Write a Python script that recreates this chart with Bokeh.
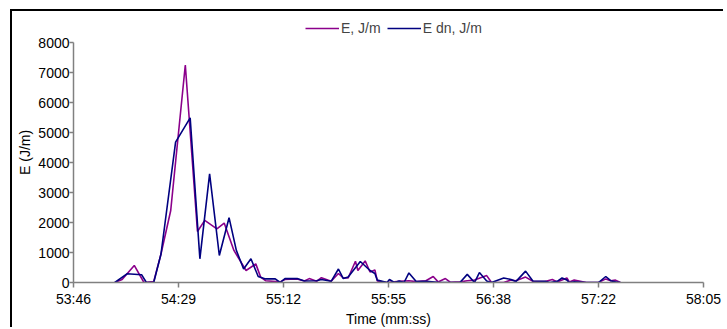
from bokeh.plotting import figure
from bokeh.models import Legend, LegendItem, FixedTicker, ColumnDataSource
from bokeh.embed import file_html
from bokeh.resources import INLINE

# ---- data (time as mm:ss, energy in J/m) ----
e_time = ["54:03", "54:06", "54:11", "54:15", "54:19", "54:22", "54:26", "54:32",
          "54:37", "54:40", "54:45", "54:48", "54:52", "54:57", "55:01", "55:03",
          "55:05", "55:11", "55:13", "55:18", "55:21", "55:23", "55:26", "55:28",
          "55:32", "55:35", "55:37", "55:39", "55:42", "55:43", "55:46", "55:48",
          "55:50", "55:51", "55:55", "56:00", "56:04", "56:07", "56:11", "56:14",
          "56:16", "56:19", "56:21", "56:25", "56:28", "56:31", "56:36", "56:38",
          "56:43", "56:46", "56:48", "56:52", "56:55", "57:00", "57:03", "57:05",
          "57:09", "57:10", "57:12", "57:17", "57:22", "57:25", "57:27", "57:29",
          "57:31"]
e_vals = [0, 100, 570, 0, 30, 950, 2400, 7250,
          1700, 2070, 1790, 1980, 1070, 400, 620, 180,
          60, 20, 100, 120, 50, 130, 40, 160,
          40, 300, 150, 150, 710, 400, 720, 350,
          420, 50, 0, 40, 60, 30, 60, 200,
          20, 130, 10, 20, 60, 80, 230, 0,
          0, 80, 60, 180, 40, 30, 100, 20,
          150, 20, 80, 0, 0, 120, 60, 80,
          0]

edn_time = ["54:03", "54:08", "54:14", "54:16", "54:19", "54:22", "54:28", "54:34",
            "54:38", "54:42", "54:46", "54:50", "54:53", "54:56", "54:59", "55:02",
            "55:05", "55:09", "55:11", "55:13", "55:18", "55:21", "55:26", "55:28",
            "55:32", "55:35", "55:37", "55:39", "55:44", "55:48", "55:50", "55:51",
            "55:55", "55:56", "55:58", "56:00", "56:02", "56:04", "56:07", "56:11",
            "56:16", "56:21", "56:25", "56:28", "56:31", "56:33", "56:36", "56:38",
            "56:43", "56:46", "56:48", "56:52", "56:55", "57:00", "57:02", "57:05",
            "57:07", "57:09", "57:10", "57:12", "57:17", "57:22", "57:25", "57:27",
            "57:29", "57:31"]
edn_vals = [0, 290, 260, 0, 0, 950, 4680, 5490,
            790, 3620, 900, 2160, 1070, 450, 790, 200,
            120, 120, 0, 130, 130, 50, 60, 100,
            40, 450, 130, 180, 700, 400, 300, 80,
            0, 100, 0, 50, 0, 320, 30, 40,
            10, 0, 0, 270, 0, 330, 50, 0,
            150, 100, 30, 380, 50, 40, 0, 40,
            150, 80, 0, 20, 0, 0, 200, 60,
            20, 0]

x_tick_labels = ["53:46", "54:29", "55:12", "55:55", "56:38", "57:22", "58:05"]
y_ticks = [0, 1000, 2000, 3000, 4000, 5000, 6000, 7000, 8000]


def to_sec(s):
    m, ss = s.split(":")
    return int(m) * 60 + int(ss)


x_start = to_sec(x_tick_labels[0])
x_step = 43.2  # Excel time-axis major unit (0.0005 day)
x_ticks = [x_start + i * x_step for i in range(len(x_tick_labels))]

FONT = "Liberation Sans"

# frame spans 264 px; the value axis 0..8000 occupies its lower 240 px
y_top = y_ticks[-1] * 264 / 240

p = figure(width=713, height=318, output_backend="svg", toolbar_location=None,
           x_range=(x_ticks[0], x_ticks[-1]), y_range=(0, y_top),
           min_border_left=61, min_border_right=22, min_border_top=7,
           min_border_bottom=47)
# chart-area border: only its left and top edges fall inside the window
p.styles = {"border-left": "2px solid #000000", "border-top": "2px solid #000000",
            "margin-left": "10px", "margin-top": "9px"}
p.background_fill_color = "white"
p.border_fill_color = "white"
p.outline_line_color = None
p.grid.visible = False

src_e = ColumnDataSource(dict(t=[to_sec(s) for s in e_time], v=e_vals))
src_d = ColumnDataSource(dict(t=[to_sec(s) for s in edn_time], v=edn_vals))
r1 = p.line("t", "v", source=src_e, line_color="#8B008B", line_width=1.6)
r2 = p.line("t", "v", source=src_d, line_color="#000080", line_width=1.6)

# axes
xa = p.xaxis[0]
xa.ticker = FixedTicker(ticks=x_ticks)
xa.major_label_overrides = {t: lab for t, lab in zip(x_ticks, x_tick_labels)}
xa.axis_label = "Time (mm:ss)"
ya = p.yaxis[0]
ya.ticker = FixedTicker(ticks=y_ticks)
ya.bounds = (y_ticks[0], y_ticks[-1])
ya.axis_label = "E  (J/m)"
for ax in (xa, ya):
    ax.axis_line_color = "#808080"
    ax.axis_line_width = 1.5
    ax.major_tick_line_color = "#808080"
    ax.major_tick_line_width = 1.5
    ax.major_tick_in = 0
    ax.major_tick_out = 5
    ax.minor_tick_line_color = None
    ax.major_label_text_font = FONT
    ax.major_label_text_font_size = "14px"
    ax.major_label_text_color = "black"
    ax.axis_label_text_font = FONT
    ax.axis_label_text_font_size = "14px"
    ax.axis_label_text_font_style = "normal"
    ax.axis_label_text_color = "black"
ya.major_tick_out = 4
xa.major_label_standoff = 3
xa.axis_label_standoff = 1
ya.major_label_standoff = 0
ya.axis_label_standoff = 2

legend = Legend(items=[LegendItem(label="E, J/m", renderers=[r1]),
                       LegendItem(label="E dn, J/m", renderers=[r2])],
                orientation="horizontal", location=(232, 246),
                padding=0, margin=0, spacing=6, glyph_width=34, glyph_height=16,
                label_height=16, label_standoff=2, border_line_color=None,
                background_fill_alpha=0, label_text_font=FONT,
                label_text_font_size="14px")
p.add_layout(legend)

open("out.html", "w").write(file_html(p, INLINE))
